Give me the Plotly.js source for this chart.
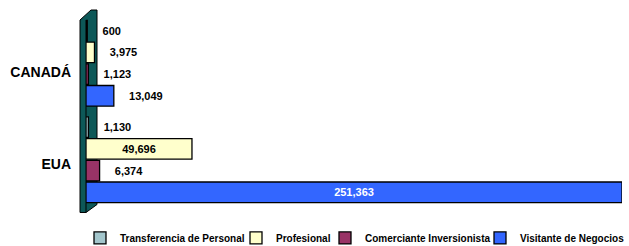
<!DOCTYPE html>
<html>
<head>
<meta charset="utf-8">
<script src="https://cdn.plot.ly/plotly-3.0.1.min.js"></script>
<style>html,body{margin:0;padding:0;background:#fff;}#chart{width:629px;height:246px;}</style>
</head>
<body>
<div id="chart"></div>
<script>
// Data
const categories = ["EUA", "CANADÁ"];
const seriesNames = ["Transferencia de Personal", "Profesional", "Comerciante Inversionista", "Visitante de Negocios"];
const transferencia = [1130, 600];
const profesional = [49696, 3975];
const comerciante = [6374, 1123];
const visitante = [251363, 13049];

const colors = ["#A3C6CC", "#FFFFCC", "#993366", "#3366FF"];
const FONT = "Arial, Liberation Sans, sans-serif";
const fmt = v => v.toLocaleString("en-US");
const big = v => v > 40000;
const pad = "\u00A0\u00A0\u00A0\u00A0";

function mk(name, vals, color, legendId, insideColor) {
  return {
    type: "bar",
    orientation: "h",
    name: name,
    legend: legendId,
    y: categories,
    x: vals,
    text: vals.map(v => big(v) ? fmt(v) : pad + fmt(v)),
    textposition: vals.map(v => big(v) ? "inside" : "outside"),
    textfont: {family: FONT, size: 11, color: vals.map(v => big(v) ? insideColor : "#000"), weight: "bold"},
    insidetextanchor: "middle",
    cliponaxis: false,
    constraintext: "none",
    marker: {color: color, line: {color: "#000", width: 1.3}},
    hoverinfo: "skip"
  };
}
const traces = [
  mk(seriesNames[3], visitante, colors[3], "legend4", "#fff"),
  mk(seriesNames[2], comerciante, colors[2], "legend3", "#fff"),
  mk(seriesNames[1], profesional, colors[1], "legend2", "#000"),
  mk(seriesNames[0], transferencia, colors[0], "legend", "#000")
];

// paper-coordinate helpers for decoration (wall & legends)
const L = 86, R = 7, T = 15, B = 37.5, W = 629, H = 246;
const pw = W - L - R, ph = H - T - B;
const px = x => (x - L) / pw;
const py = y => (H - B - y) / ph;

function leg(xpx) {
  return {
    orientation: "h", x: px(xpx), xanchor: "left", y: py(224), yanchor: "top",
    font: {family: FONT, size: 10, color: "#000", weight: "bold"},
    itemwidth: 30, bgcolor: "rgba(0,0,0,0)", borderwidth: 0
  };
}

const wall = `M ${px(80)} ${py(213)} L ${px(80)} ${py(20)} L ${px(91)} ${py(10)} L ${px(97)} ${py(10)} L ${px(97)} ${py(205)} L ${px(86)} ${py(213)} Z`;

const layout = {
  width: W, height: H,
  margin: {l: L, r: R, t: T, b: B, autoexpand: false},
  paper_bgcolor: "#fff", plot_bgcolor: "#fff",
  barmode: "group",
  bargap: 0.1,
  bargroupgap: 0.05,
  showlegend: true,
  legend: leg(80),
  legend2: leg(236),
  legend3: leg(325),
  legend4: leg(480),
  xaxis: {range: [0, 251363], showgrid: false, zeroline: false, showticklabels: false, ticks: "", showline: false, fixedrange: true},
  yaxis: {
    automargin: false,
    showgrid: false, zeroline: false, showline: false,
    tickmode: "array", tickvals: [-0.05, 0.91], ticktext: categories,
    ticks: "", ticklabelstandoff: 14,
    tickfont: {family: FONT, size: 14, color: "#000", weight: "bold"},
    fixedrange: true
  },
  shapes: [
    {type: "path", xref: "paper", yref: "paper", path: wall, fillcolor: "#0D5858", line: {color: "#000", width: 1}, layer: "below"},
    {type: "line", xref: "paper", yref: "paper", x0: px(86), x1: px(86), y0: py(20), y1: py(213), line: {color: "#000", width: 1}, layer: "below"}
  ]
};

Plotly.newPlot("chart", traces, layout, {displayModeBar: false, staticPlot: true});
</script>
</body>
</html>
